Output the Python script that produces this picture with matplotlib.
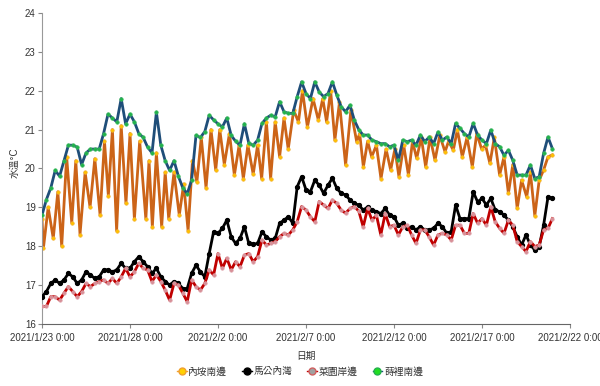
import numpy as np
import pandas as pd
import matplotlib
matplotlib.use("Agg")
import matplotlib.pyplot as plt
import matplotlib.dates as mdates
from matplotlib.lines import Line2D

plt.rcParams['font.family'] = ['Liberation Sans', 'Noto Sans CJK TC', 'DejaVu Sans']
plt.rcParams['axes.unicode_minus'] = False

start = pd.Timestamp("2021-01-23 00:00")

# 6 小時一筆 (day 0 ~ day 29)
t6_days = np.arange(0, 29.01, 0.25)

# 蒔裡南邊
shili = [18.8, 19.2, 19.5, 19.95, 19.8, 20.2, 20.6, 20.6, 20.55, 20.1, 20.4, 20.5,
         20.5, 20.5, 20.9, 21.4, 21.3, 21.2, 21.8, 21.15, 21.4, 21.2, 20.9, 20.8,
         20.55, 20.4, 21.45, 20.6, 20.2, 19.95, 20.2, 19.8, 19.5, 19.35, 19.7, 20.85,
         20.8, 20.95, 21.37, 21.25, 21.15, 21.07, 21.3, 20.85, 20.7, 20.6, 21.15, 20.65,
         20.6, 20.73, 21.16, 21.3, 21.37, 21.33, 21.72, 21.46, 21.42, 21.42, 21.85, 22.23,
         21.93, 21.8, 22.23, 21.97, 21.85, 21.93, 22.23, 21.89, 21.59, 21.46, 21.63, 21.24,
         21.0, 20.86, 20.86, 20.73, 20.69, 20.64, 20.64, 20.56, 20.6, 20.21, 20.73, 20.69,
         20.73, 20.6, 20.86, 20.69, 20.81, 20.64, 20.94, 20.73, 20.81, 20.64, 21.16, 21.03,
         20.9, 20.81, 21.16, 20.86, 20.73, 20.64, 20.99, 20.64, 20.56, 20.34, 20.47, 20.21,
         19.83, 19.83, 19.83, 20.09, 19.74, 19.79, 20.39, 20.81, 20.51]

# 馬公內灣
magong = [16.7, 16.83, 17.04, 17.13, 17.04, 17.13, 17.3, 17.21, 17.04, 17.13, 17.34, 17.26,
          17.17, 17.21, 17.39, 17.39, 17.34, 17.39, 17.56, 17.43, 17.43, 17.6, 17.73, 17.6,
          17.47, 17.3, 17.43, 17.21, 17.09, 17.0, 17.09, 17.04, 16.91, 16.91, 17.3, 17.51,
          17.34, 17.21, 17.81, 18.37, 18.33, 18.46, 18.67, 18.24, 18.07, 18.2, 18.5, 18.07,
          18.05, 18.07, 18.37, 18.24, 18.16, 18.2, 18.59, 18.67, 18.76, 18.59, 19.53, 19.79,
          19.45, 19.4, 19.7, 19.57, 19.36, 19.57, 19.75, 19.49, 19.36, 19.32, 19.19, 19.1,
          19.06, 18.93, 19.01, 18.93, 18.89, 18.84, 18.97, 18.8, 18.76, 18.54, 18.59, 18.46,
          18.5, 18.42, 18.5, 18.42, 18.42, 18.46, 18.59, 18.5, 18.33, 18.37, 19.06, 18.71,
          18.71, 18.71, 19.4, 19.14, 19.23, 19.06, 19.23, 18.93, 18.89, 18.8, 18.67, 18.5,
          18.24, 18.03, 18.29, 18.03, 17.9, 17.99, 18.54, 19.27, 19.23]

# 菜園岸邊
caiyuan = [16.45, 16.45, 16.7, 16.7, 16.61, 16.79, 16.96, 16.83, 16.7, 16.83, 17.04, 16.96,
           17.04, 17.09, 17.13, 17.04, 17.17, 17.04, 17.21, 17.43, 17.21, 17.34, 17.56, 17.43,
           17.39, 17.09, 17.26, 17.09, 16.87, 16.61, 17.04, 17.0, 16.79, 16.57, 17.13, 16.96,
           16.87, 17.04, 17.39, 17.26, 17.81, 17.43, 17.69, 17.39, 17.6, 17.47, 17.77, 17.81,
           17.6, 17.73, 18.16, 18.03, 18.07, 18.12, 18.24, 18.33, 18.29, 18.42, 18.63, 19.02,
           18.93, 18.76, 18.63, 19.15, 19.06, 18.97, 19.19, 19.1, 18.93, 18.85, 18.97, 19.02,
           18.9, 18.5, 18.97, 18.67, 18.8, 18.29, 18.84, 18.5, 18.54, 18.29, 18.5, 18.54,
           18.29, 18.07, 18.42, 18.42, 18.24, 18.03, 18.29, 18.33, 18.29, 18.16, 18.54, 18.54,
           18.33, 18.33, 18.84, 18.59, 18.71, 18.54, 19.01, 18.63, 18.46, 18.33, 18.67, 18.54,
           18.12, 17.99, 17.86, 18.12, 17.99, 18.03, 18.42, 18.46, 18.71]

# 內垵南邊 (潮汐起伏大, 各自時間點)
neian_days = [0.0, 0.08, 0.35, 0.64, 0.9, 1.12, 1.4, 1.69, 1.92, 2.16, 2.45, 2.73,
              3.0, 3.3, 3.55, 3.77, 4.0, 4.24, 4.5, 4.77, 5.0, 5.25, 5.55, 5.9,
              6.08, 6.27, 6.5, 6.8, 7.0, 7.2, 7.5, 7.8, 8.05, 8.3, 8.55, 8.8,
              9.05, 9.32, 9.6, 9.87, 10.1, 10.36, 10.65, 10.93, 11.2, 11.44, 11.7, 12.0,
              12.25, 12.48, 12.75, 12.99, 13.25, 13.5, 13.75, 13.99, 14.3, 14.57, 14.8, 15.08,
              15.4, 15.7, 15.95, 16.17, 16.4, 16.64, 16.9, 17.25, 17.55, 17.88, 18.05, 18.26,
              18.5, 18.73, 19.0, 19.26, 19.55, 19.81, 20.05, 20.28, 20.55, 20.82, 21.05, 21.29,
              21.55, 21.8, 22.05, 22.33, 22.6, 22.9, 23.1, 23.37, 23.6, 23.88, 24.15, 24.45,
              24.7, 24.98, 25.2, 25.45, 25.7, 26.0, 26.25, 26.5, 26.75, 27.0, 27.25, 27.54,
              27.75, 28.0, 28.25, 28.5, 28.75, 29.0]
neian = [18.7, 17.95, 19.0, 18.2, 19.4, 18.0, 20.3, 18.6, 20.2, 18.3, 19.9, 19.0,
         20.25, 18.8, 20.7, 19.3, 21.0, 18.4, 21.1, 19.1, 20.9, 18.7, 20.7, 18.7,
         20.2, 18.5, 20.4, 18.5, 19.9, 18.7, 19.9, 18.8, 19.6, 18.4, 20.2, 19.65,
         20.8, 19.5, 21.0, 19.96, 21.0, 20.1, 20.9, 19.83, 20.6, 19.74, 20.6, 19.85,
         20.6, 19.74, 21.2, 19.74, 21.2, 20.3, 21.3, 20.5, 21.5, 21.2, 22.0, 21.07,
         21.8, 21.25, 21.8, 21.2, 22.0, 20.73, 21.7, 20.09, 21.5, 20.69, 20.9, 20.04,
         20.7, 20.3, 20.6, 19.74, 20.5, 19.96, 20.5, 19.79, 20.6, 19.83, 20.7, 20.26,
         20.8, 20.04, 20.8, 20.21, 20.85, 20.43, 20.7, 20.47, 21.0, 20.3, 20.8, 20.04,
         20.9, 20.5, 20.6, 20.13, 20.8, 19.83, 20.3, 19.36, 20.1, 18.97, 19.7, 19.27,
         19.9, 18.78, 19.7, 19.96, 20.3, 20.35]

t6 = start + pd.to_timedelta(t6_days, unit="D")
t_neian = start + pd.to_timedelta(neian_days, unit="D")

fig = plt.figure(figsize=(6, 3.86), dpi=100)
ax = fig.add_axes([0.07, 0.161, 0.88, 0.805])

ax.plot(t_neian, neian, color="#cc6418", lw=2.0, marker="o", ms=2.6,
        mfc="#ffc000", mec="#f0b040", mew=0.4, zorder=2)
ax.plot(t6, magong, color="black", lw=2.0, marker="o", ms=2.8,
        mfc="black", mec="black", zorder=3)
ax.plot(t6, caiyuan, color="#c00000", lw=2.0, marker="o", ms=2.6,
        mfc="#d89098", mec="#e0a8b0", mew=0.4, zorder=3)
ax.plot(t6, shili, color="#1f4e79", lw=2.0, marker="o", ms=2.6,
        mfc="#22b14c", mec="#40c060", mew=0.4, zorder=4)

ax.set_xlim(start, pd.Timestamp("2021-02-22"))
ax.set_ylim(16, 24)
ax.set_yticks(range(16, 25))
ticks = pd.date_range("2021-01-23", "2021-02-22", freq="5D")
ax.set_xticks(ticks)
ax.xaxis.set_major_formatter(plt.FuncFormatter(
    lambda v, p: (lambda d: f"{d.year}/{d.month}/{d.day} {d.hour}:{d.minute:02d}")(mdates.num2date(v))))

for s in ["top", "right"]:
    ax.spines[s].set_visible(False)
ax.spines["left"].set_color("#999999")
ax.spines["bottom"].set_color("#666666")
ax.tick_params(axis="both", labelsize=7, length=3, color="#888888", labelcolor="#333333")
ax.tick_params(axis="y", pad=1.5)

ax.set_ylabel("水溫°C", fontsize=7, color="#333333")
ax.yaxis.set_label_coords(-0.042, 0.52)
ax.set_xlabel("日期", fontsize=7, labelpad=6, color="#333333")

handles = [
    Line2D([], [], color="#f0a030", lw=1, marker="o", ms=5, mfc="#ffd000", mec="#f0a030"),
    Line2D([], [], color="black", lw=1, marker="o", ms=5, mfc="black", mec="black"),
    Line2D([], [], color="#c00000", lw=1, marker="o", ms=5, mfc="#a0a0a0", mec="#d06060"),
    Line2D([], [], color="#1f4e79", lw=1, marker="o", ms=5, mfc="#22dd22", mec="#22b14c"),
]
labels = ["內垵南邊", "馬公內灣", "菜園岸邊", "蒔裡南邊"]
fig.legend(handles, labels, loc="center", bbox_to_anchor=(0.5, 0.038), ncol=4,
           frameon=False, fontsize=7, handlelength=1.0, handletextpad=0.2,
           columnspacing=1.5, labelcolor="#333333")

fig.savefig("out.png", dpi=100)
